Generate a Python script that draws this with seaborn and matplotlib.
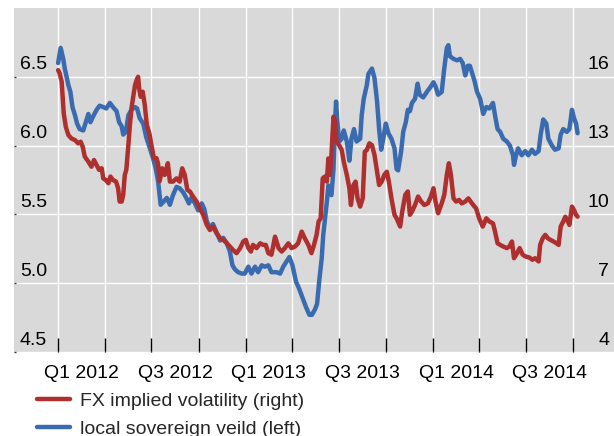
import numpy as np
import pandas as pd
import matplotlib
matplotlib.use("Agg")
import matplotlib.pyplot as plt
import matplotlib.transforms as mtransforms
import matplotlib.dates as mdates
from matplotlib.lines import Line2D
import seaborn as sns

# ---------------- data ----------------
start_date = "2012-01-01"

# local sovereign yield (left axis), days since start_date
yield_days = [0, 5, 10, 13, 20, 24, 28, 33, 37, 42, 49, 54, 59, 63, 68, 75, 81, 88, 94, 101,
              107, 114, 119, 124, 127, 132, 137, 143, 150, 154, 159, 166, 172, 179, 185, 190,
              195, 200, 205, 212, 218, 224, 231, 237, 244, 250, 255, 260, 267, 273, 280, 285,
              290, 296, 302, 309, 316, 322, 329, 335, 340, 345, 351, 358, 364, 371, 377, 384,
              390, 397, 403, 410, 416, 426, 433, 439, 446, 451, 457, 464, 470, 477, 483, 490,
              495, 501, 505, 509, 514, 517, 520, 524, 527, 530, 533, 537, 540, 542, 544, 548,
              553, 557, 563, 568, 572, 577, 582, 589, 592, 596, 602, 605, 612, 617, 622, 626,
              630, 634, 639, 644, 650, 656, 660, 663, 669, 673, 678, 682, 686, 690, 696, 701,
              705, 712, 719, 725, 732, 736, 741, 748, 753, 758, 761, 764, 771, 778, 784, 789,
              794, 799, 803, 808, 812, 817, 823, 829, 835, 841, 848, 852, 857, 862, 868, 875,
              881, 887, 889, 893, 897, 904, 911, 917, 924, 930, 937, 941, 946, 952, 956, 963,
              969, 976, 980, 985, 992, 997, 1002, 1006, 1010, 1013]
yield_values = [6.60, 6.71, 6.63, 6.56, 6.44, 6.39, 6.28, 6.22, 6.16, 6.12, 6.11, 6.17, 6.23, 6.17,
                6.21, 6.26, 6.29, 6.28, 6.27, 6.31, 6.28, 6.25, 6.17, 6.14, 6.08, 6.10, 6.22, 6.26,
                6.28, 6.27, 6.20, 6.16, 6.06, 5.98, 5.91, 5.84, 5.74, 5.57, 5.59, 5.62, 5.57, 5.64,
                5.70, 5.69, 5.66, 5.62, 5.58, 5.62, 5.58, 5.53, 5.58, 5.54, 5.45, 5.40, 5.43, 5.37,
                5.31, 5.33, 5.29, 5.23, 5.13, 5.10, 5.08, 5.07, 5.07, 5.12, 5.07, 5.12, 5.08, 5.13,
                5.12, 5.13, 5.08, 5.08, 5.07, 5.12, 5.16, 5.19, 5.13, 5.01, 4.96, 4.89, 4.83, 4.77,
                4.77, 4.81, 4.85, 5.01, 5.18, 5.35, 5.45, 5.59, 5.71, 5.66, 5.64, 5.83, 6.17, 6.32,
                6.20, 6.03, 6.05, 6.11, 6.03, 5.89, 6.05, 6.12, 6.03, 6.05, 6.22, 6.34, 6.44, 6.52,
                6.56, 6.49, 6.32, 6.12, 5.97, 6.05, 6.16, 6.09, 6.05, 5.98, 5.83, 5.82, 5.96, 6.10,
                6.17, 6.26, 6.25, 6.31, 6.34, 6.45, 6.37, 6.35, 6.39, 6.42, 6.46, 6.43, 6.37, 6.39,
                6.56, 6.71, 6.73, 6.65, 6.63, 6.62, 6.63, 6.60, 6.51, 6.58, 6.58, 6.52, 6.47, 6.39,
                6.34, 6.23, 6.28, 6.27, 6.31, 6.22, 6.12, 6.10, 6.05, 6.03, 6.00, 5.93, 5.86, 5.93,
                5.98, 5.93, 5.96, 5.93, 5.97, 5.94, 5.96, 6.08, 6.19, 6.16, 6.05, 6.00, 5.97, 5.98,
                6.08, 6.12, 6.10, 6.12, 6.26, 6.20, 6.16, 6.09]

# FX implied volatility (right axis), days since start_date
vol_days = [0, 3, 7, 9, 11, 15, 20, 26, 33, 39, 44, 48, 52, 59, 65, 70, 75, 80, 85, 88, 93, 98,
            102, 107, 113, 117, 120, 124, 127, 130, 133, 137, 140, 143, 146, 150, 153, 156, 158,
            161, 165, 169, 173, 178, 182, 187, 192, 195, 198, 203, 208, 214, 218, 224, 231, 237,
            242, 247, 252, 257, 263, 270, 276, 283, 290, 296, 302, 309, 316, 322, 329, 335, 341,
            348, 355, 361, 366, 371, 376, 380, 387, 394, 400, 405, 410, 416, 423, 430, 436, 442,
            449, 455, 462, 468, 475, 481, 488, 494, 499, 504, 508, 512, 516, 520, 524, 527, 530,
            533, 537, 540, 543, 548, 553, 557, 563, 568, 571, 576, 580, 584, 589, 594, 598, 602,
            607, 612, 617, 622, 626, 631, 636, 641, 645, 650, 656, 660, 667, 671, 677, 682, 686,
            690, 696, 702, 708, 714, 721, 727, 732, 736, 741, 748, 753, 758, 762, 766, 771, 776,
            782, 787, 794, 800, 807, 812, 815, 821, 828, 835, 841, 848, 852, 857, 862, 868, 875,
            880, 885, 889, 895, 900, 906, 912, 919, 925, 930, 937, 940, 945, 950, 955, 960, 966,
            972, 976, 980, 985, 989, 993, 997, 1002, 1006, 1010, 1013]
vol_values = [16.29, 16.15, 15.78, 15.06, 14.40, 13.82, 13.46, 13.31, 13.24, 13.10, 13.17, 12.95,
              12.52, 12.30, 12.08, 12.37, 12.15, 11.94, 12.01, 11.57, 11.50, 11.36, 11.65, 11.50,
              11.43, 11.14, 10.56, 10.56, 10.85, 11.72, 11.94, 13.02, 13.90, 14.62, 15.06, 15.64,
              15.85, 16.00, 15.49, 15.13, 15.35, 14.77, 13.90, 13.53, 13.02, 12.44, 12.45, 12.20,
              11.45, 12.01, 11.72, 12.23, 11.43, 11.43, 11.57, 11.43, 12.01, 11.72, 11.07, 11.00,
              10.78, 10.56, 10.27, 9.98, 9.54, 9.32, 9.47, 9.18, 8.96, 8.89, 8.74, 8.60, 8.45,
              8.31, 8.53, 8.82, 8.89, 8.53, 8.38, 8.67, 8.53, 8.74, 8.67, 8.67, 8.31, 8.24, 9.03,
              8.53, 8.38, 8.53, 8.74, 8.53, 8.60, 8.74, 9.25, 8.96, 8.67, 8.31, 8.67, 9.11, 9.69,
              9.83, 11.57, 11.65, 11.43, 12.44, 11.72, 12.59, 14.26, 14.11, 13.17, 13.02, 12.81,
              12.30, 11.72, 11.14, 10.41, 11.28, 11.43, 10.70, 10.34, 10.70, 12.73, 12.81, 13.10,
              13.02, 12.59, 11.86, 11.28, 11.43, 11.72, 11.86, 11.43, 10.70, 9.98, 9.83, 9.47,
              10.12, 10.85, 11.00, 9.98, 10.12, 10.41, 10.78, 10.56, 10.41, 10.48, 10.78, 11.14,
              10.56, 10.05, 10.48, 10.85, 11.72, 12.23, 11.72, 10.70, 10.56, 10.63, 10.48, 10.56,
              10.70, 10.48, 10.34, 10.27, 9.83, 9.47, 9.83, 9.69, 9.61, 9.25, 8.74, 8.67, 8.60,
              8.53, 8.60, 8.82, 8.09, 8.31, 8.53, 8.24, 8.16, 8.12, 8.02, 8.09, 7.95, 8.67, 8.96,
              9.11, 8.96, 8.89, 8.82, 8.74, 8.67, 9.47, 9.69, 9.90, 9.76, 9.54, 10.34, 10.19, 9.98,
              9.90]

left_ticks = [4.5, 5.0, 5.5, 6.0, 6.5]
left_tick_labels = ["4.5", "5.0", "5.5", "6.0", "6.5"]
right_ticks = [4, 7, 10, 13, 16]
right_tick_labels = ["4", "7", "10", "13", "16"]
quarter_labels = ["Q1 2012", "", "Q3 2012", "", "Q1 2013", "", "Q3 2013", "",
                  "Q1 2014", "", "Q3 2014", ""]
series_names = ["FX implied volatility (right)", "local sovereign veild (left)"]

RED = "#AE2F2E"
BLUE = "#3A6BB0"

# ---------------- style ----------------
sns.set_style("darkgrid", {"axes.facecolor": "#d9d9d9", "grid.color": "white"})
plt.rcParams["font.family"] = ["Liberation Sans", "DejaVu Sans"]
FS = 14

t0 = pd.Timestamp(start_date)
df_yield = pd.DataFrame({"date": t0 + pd.to_timedelta(yield_days, unit="D"),
                         "value": yield_values})
df_vol = pd.DataFrame({"date": t0 + pd.to_timedelta(vol_days, unit="D"),
                       "value": vol_values})

fig = plt.figure(figsize=(6.14, 4.36), dpi=100)
ax = fig.add_axes([14 / 614, 84 / 436, 600 / 614, 344 / 436])
ax2 = ax.twinx()

sns.lineplot(data=df_yield, x="date", y="value", ax=ax, color=BLUE, lw=3.2)
sns.lineplot(data=df_vol, x="date", y="value", ax=ax2, color=RED, lw=3.2)

ax.set_ylim(4.5, 7.0)
ax2.set_ylim(4, 19)
ax.set_xlim(mdates.date2num(t0 - pd.Timedelta(days=86)),
            mdates.date2num(t0 + pd.Timedelta(days=1084)))

quarters = pd.date_range("2012-01-01", "2014-10-01", freq="QS")
q_next = pd.date_range("2012-04-01", "2015-01-01", freq="QS")
mids = [a + (b - a) / 2 for a, b in zip(quarters, q_next)]
ax.set_xticks(mdates.date2num(quarters))
ax.set_xticklabels([""] * len(quarters))
ax.set_xticks(mdates.date2num(mids), minor=True)
ax.set_xticklabels(quarter_labels, minor=True)
ax.tick_params(axis="x", which="major", direction="in", length=10, width=1.0,
               color="black", bottom=True, labelbottom=False)
ax.tick_params(axis="x", which="minor", length=0, pad=9, labelsize=FS, labelcolor="black")

ax.set_yticks(left_ticks)
ax.tick_params(axis="y", which="major", direction="in", length=1.5, width=1.0,
               color="#333333", left=True, labelleft=False)
ax2.set_yticks(right_ticks)
ax2.tick_params(axis="y", length=0, labelright=False)
ax2.grid(False)
ax.grid(True, which="major", color="white", lw=1.0)
ax.set_xlabel("")
ax.set_ylabel("")
ax2.set_ylabel("")
for a in (ax, ax2):
    for s in a.spines.values():
        s.set_visible(False)

off = mtransforms.ScaledTranslation(0, 0.12, fig.dpi_scale_trans)
tl = mtransforms.blended_transform_factory(ax.transAxes, ax.transData) + off
for v, lab in zip(left_ticks, left_tick_labels):
    ax.text(0.010, v, lab, transform=tl, ha="left", va="center", fontsize=FS,
            color="black", clip_on=False)
tr = mtransforms.blended_transform_factory(ax2.transAxes, ax2.transData) + off
for v, lab in zip(right_ticks, right_tick_labels):
    ax2.text(0.9917, v, lab, transform=tr, ha="right", va="center", fontsize=FS,
             color="black", clip_on=False)

handles = [Line2D([], [], color=RED, lw=3.2), Line2D([], [], color=BLUE, lw=3.2)]
fig.legend(handles, series_names, loc="upper left",
           bbox_to_anchor=(37 / 614, 1 - 392 / 436), frameon=False, fontsize=FS,
           handlelength=1.7, handletextpad=0.5, labelspacing=0.55,
           borderpad=0, borderaxespad=0)

fig.savefig("out.png", dpi=100)
